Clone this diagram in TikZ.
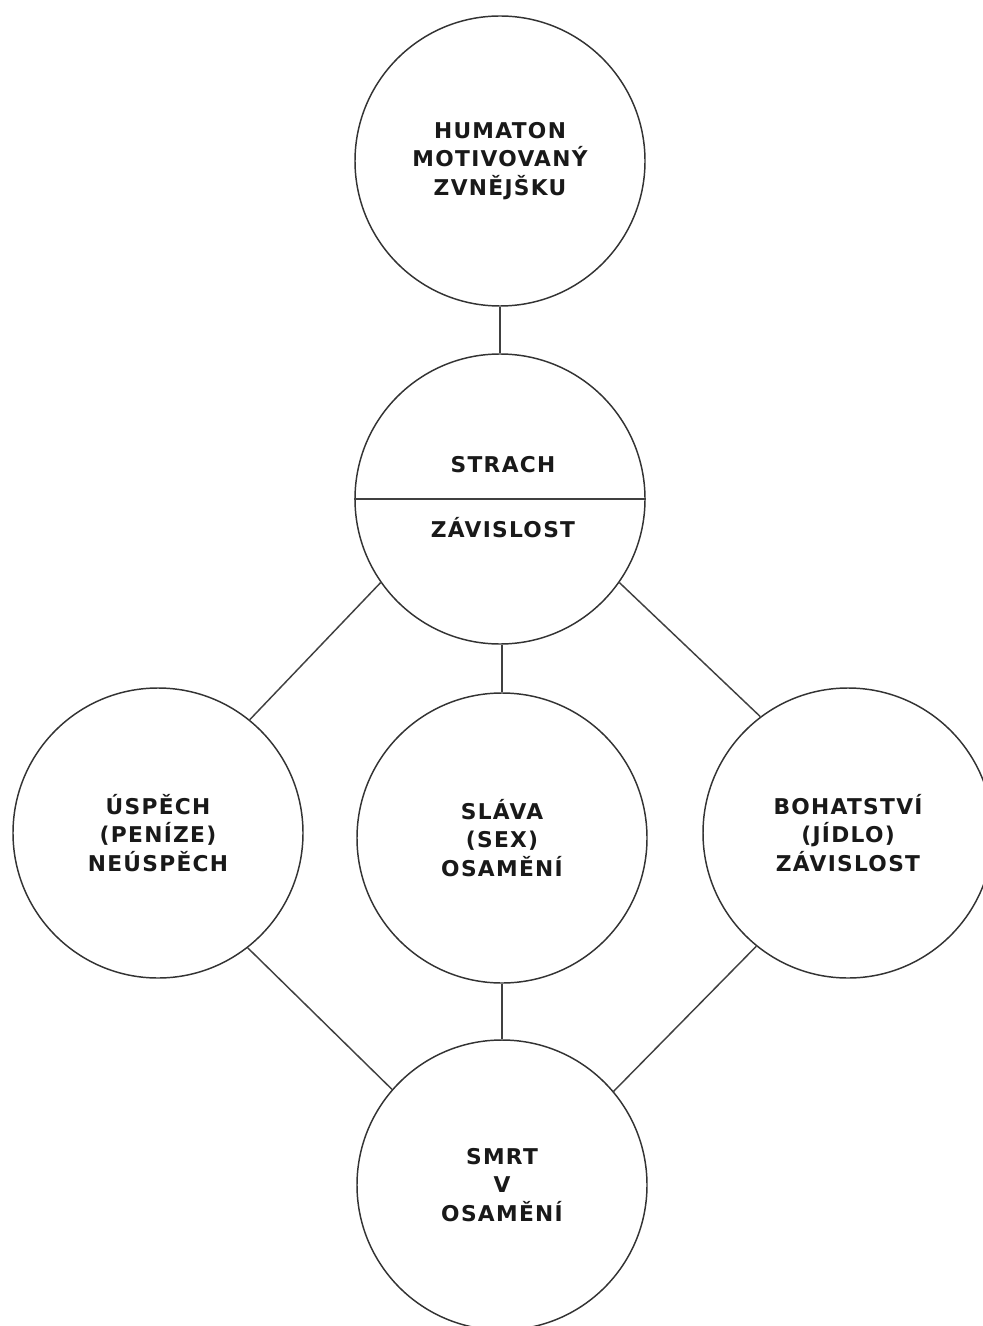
\documentclass[tikz,border=0pt]{standalone}
\usepackage{fontspec}
\newfontfamily\diagfont{DejaVu Sans}[LetterSpace=6]
\usepackage{tikz}
\usetikzlibrary{positioning}

\tikzset{
  bubble/.style={draw=black!80, line width=1.1pt, circle, minimum size=217.5pt, inner sep=0pt,
    align=center, text=black!90, font=\diagfont\bfseries\fontsize{16.3}{21.5}\selectfont},
  caption/.style={text=black!90, inner sep=0pt, font=\diagfont\bfseries\fontsize{16.3}{21.5}\selectfont},
  link/.style={draw=black!75, line width=1.1pt}
}

\begin{document}
\begin{tikzpicture}[x=0.75pt,y=0.75pt,yscale=-1,xscale=1]
\useasboundingbox (0,0) rectangle (982,1326);

% Circles
\node[bubble] (humaton) at (500,161) {HUMATON\\MOTIVOVANÝ\\ZVNĚJŠKU};
\node[bubble] (strach) at (500,499) {};
\node[bubble] (uspech) at (158,833) {ÚSPĚCH\\(PENÍZE)\\NEÚSPĚCH};
\node[bubble] (slava) at (502,838) {SLÁVA\\(SEX)\\OSAMĚNÍ};
\node[bubble] (bohatstvi) at (848,833) {BOHATSTVÍ\\(JÍDLO)\\ZÁVISLOST};
\node[bubble] (smrt) at (502,1185) {SMRT\\V\\OSAMĚNÍ};

% Split of the middle circle
\draw[link] (strach.west) -- (strach.east);
\node[caption] (strachtop) at (503,465) {STRACH};
\node[caption] (strachbottom) at (503,528) {ZÁVISLOST};

% Connectors
\draw[link] (humaton.south) -- (strach.north);
\draw[link] (slava.north |- strach.south) -- (slava.north);
\draw[link] (strach.215) -- (uspech.51);
\draw[link] (strach.325) -- (bohatstvi.127);
\draw[link] (slava.south) -- (smrt.north);
\draw[link] (uspech.308) -- (smrt.139);
\draw[link] (bohatstvi.231) -- (smrt.40);

\end{tikzpicture}
\end{document}
